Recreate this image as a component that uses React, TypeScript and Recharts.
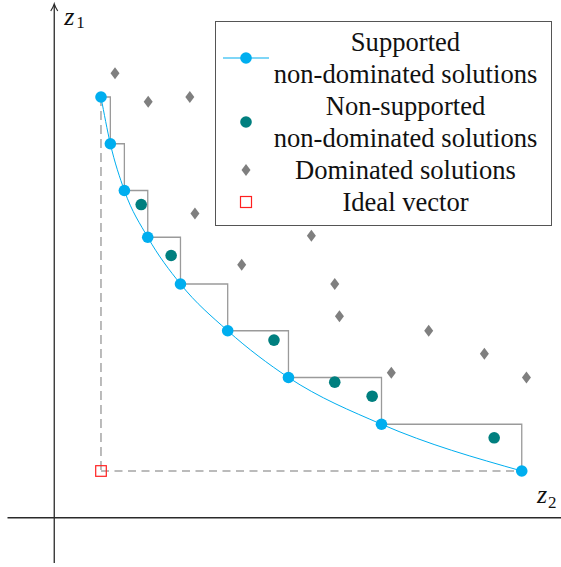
import React from 'react';
import {
  ComposedChart,
  Line,
  Scatter,
  XAxis,
  YAxis,
  ReferenceLine,
  Legend,
} from 'recharts';

// objective space, z2 across, z1 up
const supportedZ2 = [0, 0.2, 0.5, 1, 1.7, 2.71, 4.01, 6.0, 9.0];
const supportedZ1 = [8, 7, 6, 5, 4, 3, 2, 1, 0];

const nonSupportedZ2 = [0.86, 1.5, 3.7, 5.0, 5.8, 8.41];
const nonSupportedZ1 = [5.7, 4.61, 2.8, 1.9, 1.6, 0.71];

const dominatedZ2 = [0.3, 1.01, 1.9, 2.01, 3.01, 4.5, 5.0, 5.1, 7.01, 6.21, 8.2, 9.1];
const dominatedZ1 = [8.51, 7.9, 8.0, 5.51, 4.41, 5.03, 4.0, 3.31, 3.0, 2.1, 2.51, 2.0];

const idealZ2 = [0];
const idealZ1 = [0];

const legendLabels = [
  ['Supported', 'non-dominated solutions'],
  ['Non-supported', 'non-dominated solutions'],
  ['Dominated solutions'],
  ['Ideal vector'],
];

const zip = (xs: number[], ys: number[]) => xs.map((z2, i) => ({ z2, z1: ys[i] }));

const supported = zip(supportedZ2, supportedZ1);
const nonSupported = zip(nonSupportedZ2, nonSupportedZ1);
const dominated = zip(dominatedZ2, dominatedZ1);
const ideal = zip(idealZ2, idealZ1);

const BLUE = '#00aeef';
const TEAL = '#007f7f';
const GREY = '#7f7f7f';
const RED = '#ff2020';
const SERIF = '"Liberation Serif", "DejaVu Serif", serif';

const X_DOMAIN: [number, number] = [-2.1604, 9.8396];
const Y_DOMAIN: [number, number] = [-2.0535, 10.0749];

const Diamond = ({ cx, cy }: any) => (
  <path d={`M${cx},${cy - 6} L${cx + 4.5},${cy} L${cx},${cy + 6} L${cx - 4.5},${cy} Z`} fill={GREY} />
);

const Square = ({ cx, cy }: any) => (
  <rect x={cx - 5.3} y={cy - 5.3} width={10.6} height={10.6} fill="none" stroke={RED} strokeWidth={1.2} />
);

const Dot = (color: string) => ({ cx, cy }: any) => <circle cx={cx} cy={cy} r={5.8} fill={color} />;

const YAxisLine = (props: any) => {
  const { x1, y1, x2, y2 } = props;
  const top = Math.min(y1, y2);
  return (
    <g>
      <line x1={x1} y1={Math.max(y1, y2)} x2={x2} y2={top + 1} stroke="#2a2a2a" strokeWidth={1.3} />
      <path
        d={`M${x1 - 3.5},${top + 7} Q${x1 - 0.8},${top + 3} ${x1},${top} Q${x1 + 0.8},${top + 3} ${x1 + 3.5},${top + 7}`}
        fill="none"
        stroke="#2a2a2a"
        strokeWidth={1.2}
      />
      <text x={x1 + 10} y={top + 21} fontFamily={SERIF} fontSize={26} fontStyle="italic" fill="#111">
        z
      </text>
      <text x={x1 + 22} y={top + 24} fontFamily={SERIF} fontSize={17} fill="#111">
        1
      </text>
    </g>
  );
};

const XAxisLine = (props: any) => {
  const { x1, y1, x2, y2 } = props;
  const right = Math.max(x1, x2);
  return (
    <g>
      <line x1={x1} y1={y1} x2={x2} y2={y2} stroke="#2a2a2a" strokeWidth={1.3} />
      <text x={right - 24} y={y1 - 15} fontFamily={SERIF} fontSize={26} fontStyle="italic" fill="#111">
        z
      </text>
      <text x={right - 13} y={y1 - 10} fontFamily={SERIF} fontSize={17} fill="#111">
        2
      </text>
    </g>
  );
};

const legendMarkers = [
  <svg width={48} height={14}>
    <line x1={1} y1={7} x2={47} y2={7} stroke={BLUE} strokeWidth={1.2} />
    <circle cx={24} cy={7} r={5.8} fill={BLUE} />
  </svg>,
  <svg width={14} height={14}>
    <circle cx={7} cy={7} r={5.8} fill={TEAL} />
  </svg>,
  <svg width={10} height={14}>
    <path d="M5,1 L9.5,7 L5,13 L0.5,7 Z" fill={GREY} />
  </svg>,
  <svg width={14} height={14}>
    <rect x={1.5} y={1.5} width={11} height={11} fill="none" stroke={RED} strokeWidth={1.2} />
  </svg>,
];

const LegendBox = () => (
  <div
    style={{
      width: 337,
      height: 205,
      boxSizing: 'border-box',
      border: '1.5px solid #555',
      background: '#fff',
      paddingTop: 3.5,
      fontFamily: SERIF,
      fontSize: 26.6,
      color: '#111',
    }}
  >
    {legendLabels.map((lines, i) => (
      <div key={i} style={{ display: 'flex', alignItems: 'center' }}>
        <div style={{ width: 59, display: 'flex', justifyContent: 'center' }}>{legendMarkers[i]}</div>
        <div style={{ width: 261, display: 'flex', flexDirection: 'column', alignItems: 'center' }}>
          {lines.map((t) => (
            <div key={t} style={{ lineHeight: '32px', whiteSpace: 'nowrap' }}>
              {t}
            </div>
          ))}
        </div>
      </div>
    ))}
  </div>
);

export default function App() {
  const first = supported[0];
  const last = supported[supported.length - 1];
  const origin = ideal[0];

  return (
    <div style={{ position: 'absolute', left: 0, top: 0, background: '#fff' }}>
      <ComposedChart width={561} height={567} margin={{ top: 0, right: 0, bottom: 0, left: 0 }}>
        <XAxis type="number" dataKey="z2" domain={X_DOMAIN} allowDataOverflow hide />
        <YAxis type="number" dataKey="z1" domain={Y_DOMAIN} allowDataOverflow hide />

        <ReferenceLine segment={[{ x: -1, y: -1.97 }, { x: -1, y: 9.99 }]} shape={YAxisLine} />
        <ReferenceLine segment={[{ x: -2, y: -1 }, { x: 9.8396, y: -1 }]} shape={XAxisLine} />

        <ReferenceLine
          segment={[{ x: origin.z2, y: first.z1 }, { x: origin.z2, y: origin.z1 }]}
          stroke="#777"
          strokeWidth={1}
          strokeDasharray="9 5"
        />
        <ReferenceLine
          segment={[{ x: origin.z2, y: origin.z1 }, { x: last.z2, y: origin.z1 }]}
          stroke="#bbb"
          strokeWidth={2}
          strokeDasharray="8 5.5"
        />

        <Line
          data={supported}
          dataKey="z1"
          type="stepAfter"
          stroke="#9a9a9a"
          strokeWidth={1.3}
          dot={false}
          activeDot={false}
          isAnimationActive={false}
        />
        <Line
          data={supported}
          dataKey="z1"
          type="monotoneX"
          stroke={BLUE}
          strokeWidth={1}
          dot={false}
          activeDot={false}
          isAnimationActive={false}
        />

        <Scatter data={dominated} dataKey="z1" shape={Diamond} isAnimationActive={false} />
        <Scatter data={nonSupported} dataKey="z1" shape={Dot(TEAL)} isAnimationActive={false} />
        <Scatter data={supported} dataKey="z1" shape={Dot(BLUE)} isAnimationActive={false} />
        <Scatter data={ideal} dataKey="z1" shape={Square} isAnimationActive={false} />

        <Legend
          layout="vertical"
          align="center"
          verticalAlign="middle"
          content={<LegendBox />}
          wrapperStyle={{ position: 'absolute', left: 215, top: 21, width: 337, height: 205 }}
        />
      </ComposedChart>
    </div>
  );
}
